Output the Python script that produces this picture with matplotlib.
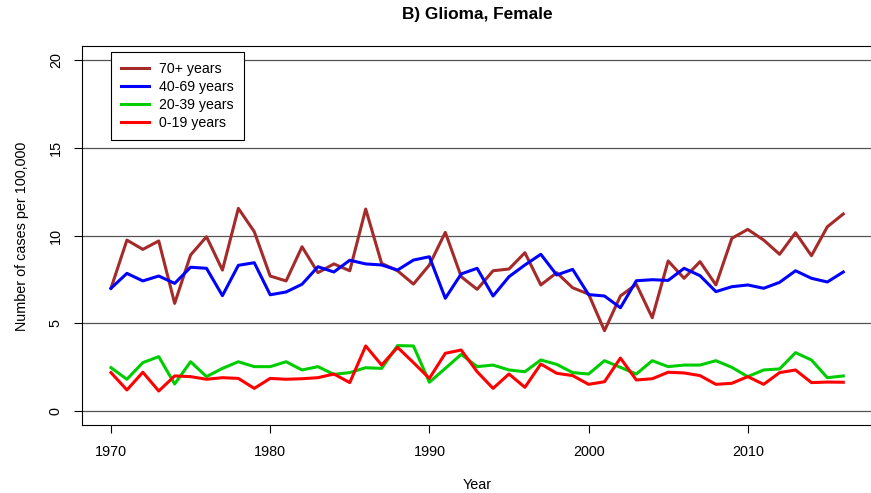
import numpy as np
import matplotlib.pyplot as plt

plt.rcParams['font.family'] = ['Liberation Sans', 'DejaVu Sans']

years = np.arange(1970, 2017)

age_70plus = [7.00, 9.75, 9.22, 9.70, 6.14, 8.90, 9.94, 8.04, 11.56, 10.23,
              7.70, 7.42, 9.37, 7.89, 8.39, 8.00, 11.52, 8.42, 8.00, 7.24,
              8.33, 10.19, 7.66, 6.94, 8.00, 8.10, 9.03, 7.19, 7.89, 7.03,
              6.67, 4.58, 6.56, 7.23, 5.32, 8.56, 7.57, 8.52, 7.19, 9.85,
              10.36, 9.75, 8.94, 10.17, 8.86, 10.51, 11.24]
age_40_69 = [7.00, 7.85, 7.42, 7.70, 7.28, 8.20, 8.14, 6.58, 8.31, 8.46,
             6.63, 6.79, 7.23, 8.23, 7.93, 8.60, 8.39, 8.33, 8.04, 8.61,
             8.80, 6.43, 7.82, 8.14, 6.56, 7.66, 8.33, 8.94, 7.76, 8.08,
             6.64, 6.56, 5.89, 7.43, 7.49, 7.45, 8.14, 7.72, 6.81, 7.09,
             7.19, 7.00, 7.34, 8.00, 7.57, 7.36, 7.93]
age_20_39 = [2.47, 1.81, 2.76, 3.10, 1.54, 2.81, 1.96, 2.43, 2.81, 2.53,
             2.53, 2.81, 2.34, 2.53, 2.09, 2.19, 2.47, 2.43, 3.73, 3.71,
             1.64, 2.43, 3.23, 2.53, 2.62, 2.34, 2.24, 2.91, 2.66, 2.19,
             2.11, 2.87, 2.49, 2.11, 2.87, 2.53, 2.62, 2.62, 2.87, 2.49,
             1.96, 2.34, 2.40, 3.33, 2.91, 1.90, 2.00]
age_0_19 = [2.19, 1.20, 2.21, 1.14, 2.00, 1.96, 1.81, 1.90, 1.86, 1.29,
            1.86, 1.81, 1.84, 1.90, 2.11, 1.62, 3.71, 2.62, 3.63, 2.76,
            1.86, 3.29, 3.48, 2.24, 1.29, 2.11, 1.35, 2.68, 2.15, 2.02,
            1.52, 1.67, 3.02, 1.77, 1.84, 2.21, 2.17, 2.02, 1.52, 1.58,
            1.96, 1.52, 2.19, 2.34, 1.62, 1.65, 1.64]

series = [(age_70plus, '#A52A2A', '70+ years'),
          (age_40_69, '#0000FF', '40-69 years'),
          (age_20_39, '#00CD00', '20-39 years'),
          (age_0_19, '#FF0000', '0-19 years')]

y_ticks = [0, 5, 10, 15, 20]
x_ticks = [1970, 1980, 1990, 2000, 2010]

fig = plt.figure(figsize=(8.71, 4.93), dpi=100)
ax = fig.add_axes([0.0938, 0.1379, 0.908, 0.768])

# horizontal reference lines at every y tick
for y in y_ticks:
    ax.axhline(y, color='#555555', lw=0.9, zorder=1)

for vals, col, lab in series:
    ax.plot(years, vals, color=col, lw=2.2, label=lab, zorder=2)

ax.set_xlim(1968.16, 2017.84)
ax.set_ylim(-0.8, 20.8)
ax.set_xticks(x_ticks)
ax.set_yticks(y_ticks)
ax.set_yticklabels([str(v) for v in y_ticks], rotation=90, va='center')
ax.tick_params(direction='out', length=5.5, width=0.8, labelsize=10.4)
ax.tick_params(axis='x', pad=9)
ax.tick_params(axis='y', pad=8)
for s in ax.spines.values():
    s.set_linewidth(0.8)
ax.spines['right'].set_visible(False)

leg = ax.legend(loc='upper left', bbox_to_anchor=(0.037, 0.985), borderaxespad=0,
                fontsize=10.2, handlelength=1.95, handletextpad=0.75,
                labelspacing=0.28, borderpad=0.7, fancybox=False, framealpha=1)
leg.get_frame().set_edgecolor('black')
leg.get_frame().set_linewidth(0.8)

fig.text(477 / 871, 1 - 15 / 493, 'B) Glioma, Female', ha='center', va='center',
         fontsize=12.4, fontweight='bold')
fig.text(477 / 871, 1 - 485 / 493, 'Year', ha='center', va='center', fontsize=10.4)
fig.text(22 / 871, 1 - 236 / 493, 'Number of cases per 100,000', ha='center',
         va='center', rotation=90, fontsize=10.4)

fig.savefig('out.png', dpi=100)
